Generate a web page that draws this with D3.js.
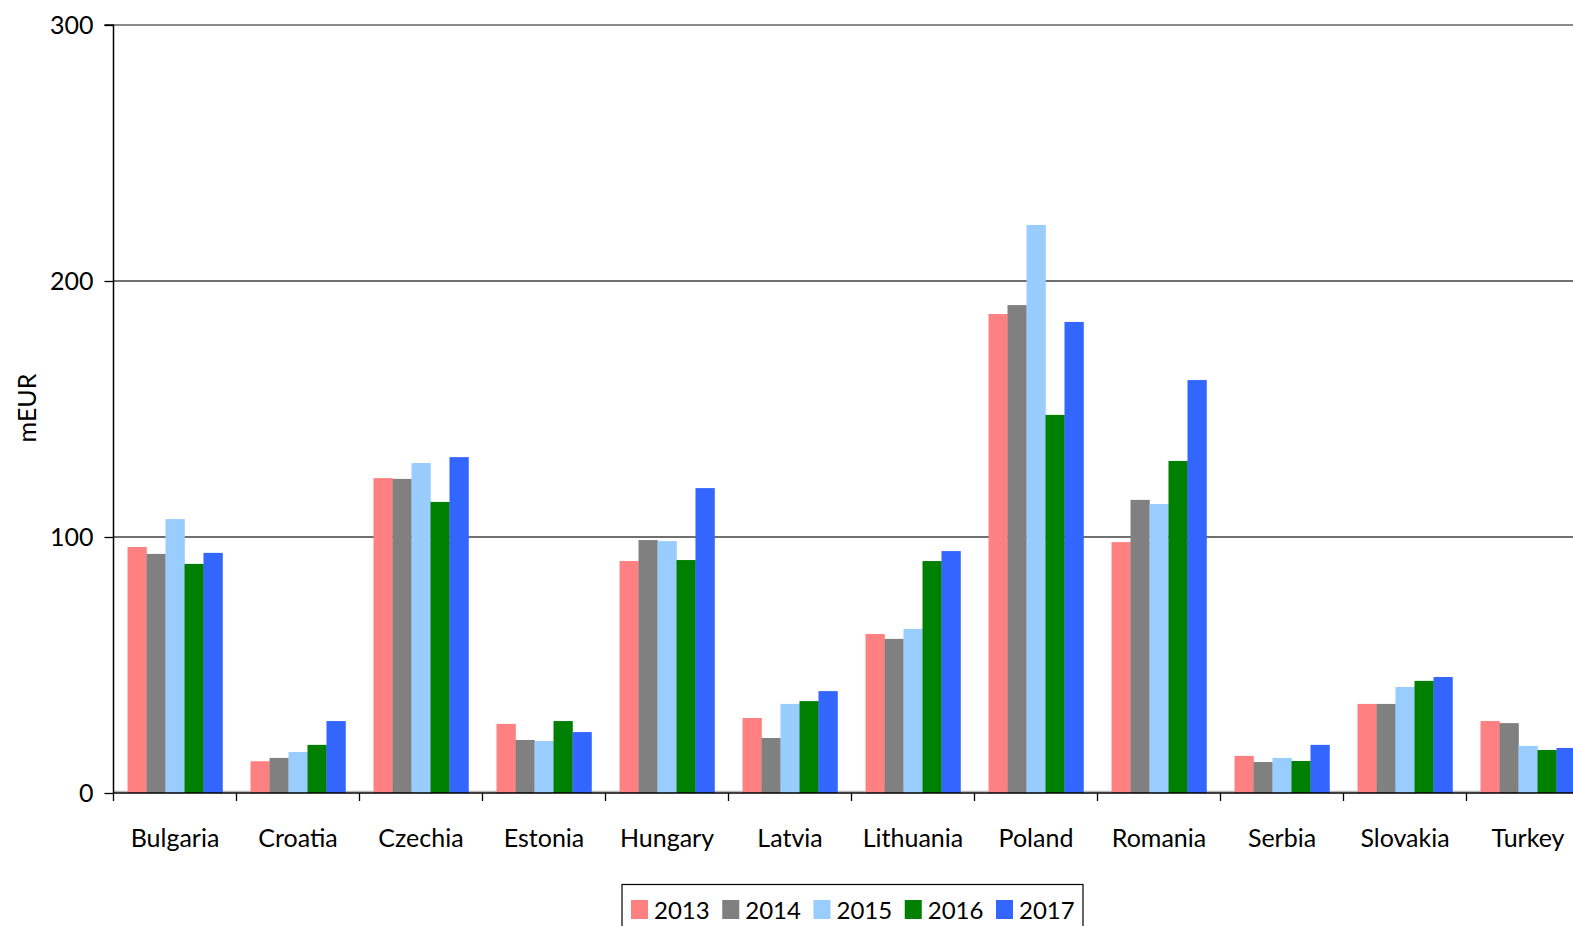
<!DOCTYPE html>
<html>
<head>
<meta charset="utf-8">
<script src="https://cdn.jsdelivr.net/npm/d3@7"></script>
<style>
html,body{margin:0;padding:0;background:#fff;overflow:hidden;}
text{font-family:Lato,"Open Sans",sans-serif;}
</style>
</head>
<body>
<svg id="chart" width="1573" height="926"></svg>
<script>
const categories = ["Bulgaria","Croatia","Czechia","Estonia","Hungary","Latvia","Lithuania","Poland","Romania","Serbia","Slovakia","Turkey"];
const years = ["2013","2014","2015","2016","2017"];
const v2013 = [96.1,12.4,123.0,27.0,90.6,29.3,62.1,187.1,98.0,14.5,34.8,28.1];
const v2014 = [93.4,13.7,122.7,20.7,98.8,21.5,60.2,190.6,114.5,12.1,34.8,27.3];
const v2015 = [107.0,16.0,128.9,20.3,98.4,34.8,64.1,221.9,112.9,13.7,41.4,18.4];
const v2016 = [89.5,18.8,113.7,28.1,91.0,35.9,90.6,147.7,129.7,12.5,43.8,16.8];
const v2017 = [93.8,28.1,131.2,23.8,119.1,39.8,94.5,184.0,161.3,18.8,45.3,17.6];
const seriesValues = [v2013,v2014,v2015,v2016,v2017];
const colors = ["#FF8080","#808080","#99CCFF","#008000","#3366FF"];
const yTicks = [0,100,200,300];
const yLabel = "mEUR";

const svg = d3.select("#chart");
const mLeft = 113.5, mRight = 113.5 + 12*123, mTop = 25, mBottom = 793;

const x = d3.scaleBand().domain(categories).range([mLeft, mRight]).paddingInner(0).paddingOuter(0);
const groupW = x.bandwidth() * 0.772;
const x1 = d3.scaleBand().domain(years).range([0, groupW]);
const y = d3.scaleLinear().domain([0,300]).range([mBottom, mTop]);

// gridlines
svg.append("g").selectAll("line").data(yTicks.filter(d=>d>0)).join("line")
  .attr("x1", mLeft).attr("x2", mRight)
  .attr("y1", d=>y(d)).attr("y2", d=>y(d))
  .attr("stroke", d=> d===300 ? "#8a8a8a" : "#404040").attr("stroke-width", d=> d===300?2:1.5);
// light baseline gridline
svg.append("line").attr("x1", mLeft).attr("x2", mRight).attr("y1", y(0)-1.5).attr("y2", y(0)-1.5)
  .attr("stroke","#bbb").attr("stroke-width",1.5);

// bars
const data = [];
categories.forEach((c,i)=>{
  years.forEach((yr,j)=>{ data.push({c, yr, v: seriesValues[j][i], j}); });
});
svg.append("g").selectAll("rect").data(data).join("rect")
  .attr("x", d=> x(d.c) + (x.bandwidth()-groupW)/2 + x1(d.yr))
  .attr("width", x1.bandwidth()+0.3)
  .attr("y", d=> y(d.v))
  .attr("height", d=> y(0)-y(d.v))
  .attr("fill", d=> colors[d.j]);

// y axis
const yAxis = d3.axisLeft(y).tickValues(yTicks).tickSize(9).tickPadding(11).tickFormat(d3.format("d"));
const gy = svg.append("g").attr("transform", `translate(${mLeft},0)`).call(yAxis);
gy.select(".domain").attr("stroke","#000").attr("stroke-width",1.5).attr("d", `M-9,${mTop}H0V${mBottom}`);
gy.selectAll(".tick line").attr("stroke","#000").attr("stroke-width",1.3);
gy.selectAll(".tick text").attr("font-size", 25).attr("fill","#000").attr("font-family","Lato,sans-serif");

// x axis
const xAxis = d3.axisBottom(x).tickSize(0);
const gx = svg.append("g").attr("transform", `translate(0,${mBottom})`).call(xAxis);
gx.select(".domain").attr("stroke","#000").attr("stroke-width",1.5).attr("d", `M${mLeft},0H${mRight}`);
gx.selectAll(".tick text").attr("y", 54).attr("dy", 0).attr("font-size", 25).attr("fill","#000").attr("font-family","Lato,sans-serif");
// category boundary ticks
const bounds = categories.map(c=>x(c)).concat([mRight]);
svg.append("g").selectAll("line").data(bounds).join("line")
  .attr("x1", d=>d).attr("x2", d=>d)
  .attr("y1", mBottom).attr("y2", mBottom+8)
  .attr("stroke","#000").attr("stroke-width",1.3);

// y label
svg.append("text").attr("transform", `translate(36,${(mTop+mBottom)/2 - 1}) rotate(-90)`)
  .attr("text-anchor","middle").attr("font-size",25).attr("fill","#000").text(yLabel);

// legend
const lg = svg.append("g");
lg.append("rect").attr("x",622).attr("y",884.5).attr("width",461).attr("height",60)
  .attr("fill","#fff").attr("stroke","#000").attr("stroke-width",1.2);
const lx = d3.scalePoint().domain(years).range([631, 996]);
const items = lg.selectAll("g.item").data(years).join("g").attr("class","item")
  .attr("transform", d=>`translate(${lx(d)},0)`);
items.append("rect").attr("x",0).attr("y",900).attr("width",17).attr("height",19)
  .attr("fill",(d,i)=>colors[i]);
items.append("text").attr("x",23).attr("y",919).attr("font-size",24).attr("fill","#000").text(d=>d);
</script>
</body>
</html>
